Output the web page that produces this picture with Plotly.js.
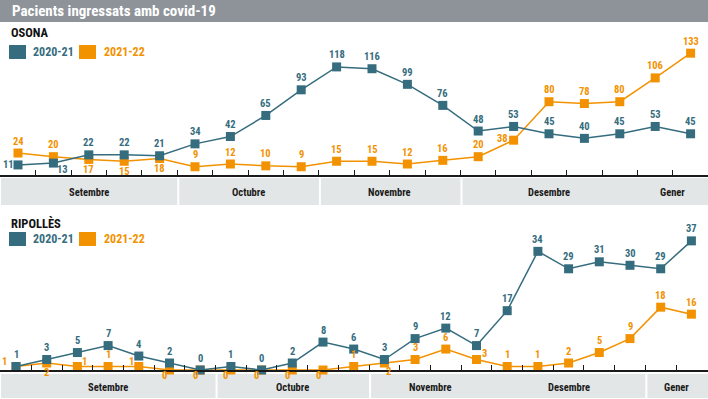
<!DOCTYPE html>
<html>
<head>
<meta charset="utf-8">
<script src="https://cdn.plot.ly/plotly-3.0.1.min.js"></script>
<style>
html,body{margin:0;padding:0;background:#fff;}
#chart{width:708px;height:399px;}
</style>
</head>
<body>
<div id="chart"></div>
<script>
// ---------- DATA ----------
const chartTitle = 'Pacients ingressats amb covid-19';
const seriesNames = ['2020-21', '2021-22'];
const monthNames = ['Setembre', 'Octubre', 'Novembre', 'Desembre', 'Gener'];

const osonaTitle = 'OSONA';
const osona2020 = [11, 13, 22, 22, 21, 34, 42, 65, 93, 118, 116, 99, 76, 48, 53, 45, 40, 45, 53, 45];
const osona2021 = [24, 20, 17, 15, 18, 9, 12, 10, 9, 15, 15, 12, 16, 20, 38, 80, 78, 80, 106, 133];
const osonaWeeksPerMonth = [5, 4, 4, 5, 2];

const ripTitle = 'RIPOLLÈS';
const rip2020 = [1, 3, 5, 7, 4, 2, 0, 1, 0, 2, 8, 6, 3, 9, 12, 7, 17, 34, 29, 31, 30, 29, 37];
const rip2021 = [1, 2, 1, 1, 1, 0, 0, 0, 0, 0, 0, 1, 2, 3, 6, 3, 1, 1, 2, 5, 9, 18, 16];
const ripWeeksPerMonth = [7, 5, 4, 5, 2];

// ---------- STYLE ----------
const W = 708, H = 399;
const X = p => p / W;
const Y = p => 1 - p / H;
const TEAL = '#356c7e';
const ORANGE = '#f39200';
const FONT = '"Roboto Condensed", "Liberation Sans Narrow", "DejaVu Sans Condensed", "Arial Narrow", Roboto, sans-serif';

// label offsets in pixels [dx, dy] (style only); default = above the marker
const ABOVE = [0, 12];
function off(special) { return i => special[i] || ABOVE; }
const osona2020Off = off({0: [-10, 0], 1: [9, -6]});
const osona2021Off = off({2: [0, -10], 3: [0, -10], 4: [0, -10], 14: [-11, 2]});
const rip2020Off = off({});
const rip2021Off = (i, v) => {
  const sp = {0: [-12, 5], 1: [0, -9], 2: [7, 5], 4: [-7, 5], 12: [4, -8], 15: [8, 6]};
  if (sp[i]) return sp[i];
  if (v === 0) return [-5, -5];
  return ABOVE;
};

function idx(arr) { return arr.map((_, i) => i); }

function mkTrace(vals, color, xa, ya) {
  return {
    x: idx(vals), y: vals, xaxis: xa, yaxis: ya,
    type: 'scatter', mode: 'lines+markers',
    line: {color: color, width: 1.5},
    marker: {symbol: 'square', size: 9, color: color},
    cliponaxis: false, hoverinfo: 'skip', showlegend: false
  };
}

const data = [
  mkTrace(osona2021, ORANGE, 'x', 'y'),
  mkTrace(osona2020, TEAL, 'x', 'y'),
  mkTrace(rip2021, ORANGE, 'x2', 'y2'),
  mkTrace(rip2020, TEAL, 'x2', 'y2')
];

const shapes = [];
const annotations = [];

function labels(vals, color, xa, ya, offFn) {
  vals.forEach((v, i) => {
    const o = offFn(i, v);
    annotations.push({xref: xa, yref: ya, x: i, y: v, xshift: o[0], yshift: o[1], showarrow: false,
      xanchor: 'center', yanchor: 'middle', text: '<b>' + v + '</b>',
      font: {family: FONT, size: 10.5, color: color}});
  });
}

// panel geometry (pixels)
const osona = {x0: 18, dx: 35.4, base: 175, top: 30, pxPerUnit: 0.916, bandTop: 178, bandBot: 205, dividers: [0, 1, 2], weeks: osonaWeeksPerMonth, n: osona2020.length};
const rip = {x0: 16, dx: 30.7, base: 370, top: 220, pxPerUnit: 3.49, bandTop: 374, bandBot: 398, dividers: [0, 1, 3], weeks: ripWeeksPerMonth, n: rip2020.length};

function xRange(g) { return [-g.x0 / g.dx, (W - g.x0) / g.dx]; }
function yRange(g) { return [0, (g.base - g.top) / g.pxPerUnit]; }
function midTicks(n) { const t = []; for (let i = 0; i < n - 1; i++) t.push(i + 0.5); return t; }

function xAxis(g, anchor) {
  return {
    domain: [0, 1], anchor: anchor, range: xRange(g), fixedrange: true,
    showgrid: false, zeroline: false, showline: true, linecolor: '#1a1a1a', linewidth: 1.5,
    ticks: 'inside', tickvals: midTicks(g.n), ticklen: 5, tickwidth: 1, tickcolor: '#1a1a1a',
    showticklabels: false
  };
}
function yAxis(g, anchor) {
  return {
    domain: [Y(g.base), Y(g.top)], anchor: anchor, range: yRange(g), fixedrange: true,
    showgrid: false, zeroline: false, showline: false, ticks: '', showticklabels: false
  };
}

// title bar
shapes.push({type: 'rect', xref: 'paper', yref: 'paper', x0: 0, x1: 1, y0: Y(22), y1: 1, fillcolor: '#8e939a', line: {width: 0}, layer: 'below'});
annotations.push({xref: 'paper', yref: 'paper', x: X(10), y: Y(11), xanchor: 'left', yanchor: 'middle', showarrow: false,
  text: '<b>' + chartTitle + '</b>', font: {family: FONT, size: 15, color: '#ffffff'}});

function panel(g, xa, title, titleY, legY) {
  annotations.push({xref: 'paper', yref: 'paper', x: X(9), y: Y(titleY), xanchor: 'left', yanchor: 'middle', showarrow: false,
    text: '<b>' + title + '</b>', font: {family: FONT, size: 12.5, color: '#111'}});
  const legs = [[9, TEAL, seriesNames[0], 31], [79, ORANGE, seriesNames[1], 102]];
  legs.forEach(l => {
    shapes.push({type: 'rect', xref: 'paper', yref: 'paper', x0: X(l[0]), x1: X(l[0] + 17), y0: Y(legY + 7), y1: Y(legY - 7), fillcolor: l[1], line: {width: 0}});
    annotations.push({xref: 'paper', yref: 'paper', x: X(l[3]), y: Y(legY), xanchor: 'left', yanchor: 'middle', showarrow: false,
      text: '<b>' + l[2] + '</b>', font: {family: FONT, size: 12, color: l[1]}});
  });
  shapes.push({type: 'rect', xref: 'paper', yref: 'paper', x0: X(1), x1: 1, y0: Y(g.bandBot), y1: Y(g.bandTop), fillcolor: '#e3e6e6', line: {width: 0}, layer: 'below'});
  let start = 0;
  g.weeks.forEach((w, m) => {
    const end = start + w - 1;
    annotations.push({xref: xa, yref: 'paper', x: (start + end) / 2, y: Y((g.bandTop + g.bandBot) / 2 + 1), xanchor: 'center', yanchor: 'middle', showarrow: false,
      text: '<b>' + monthNames[m] + '</b>', font: {family: FONT, size: 10.5, color: '#1a1a1a'}});
    if (g.dividers.indexOf(m) >= 0) {
      shapes.push({type: 'line', xref: xa, yref: 'paper', x0: end + 0.5 + 1 / g.dx, x1: end + 0.5 + 1 / g.dx, y0: Y(g.bandBot), y1: Y(g.bandTop), line: {color: '#ffffff', width: 2}});
    }
    start += w;
  });
}

panel(osona, 'x', osonaTitle, 33, 52);
panel(rip, 'x2', ripTitle, 223, 239);

labels(osona2020, TEAL, 'x', 'y', osona2020Off);
labels(osona2021, ORANGE, 'x', 'y', osona2021Off);
labels(rip2020, TEAL, 'x2', 'y2', rip2020Off);
labels(rip2021, ORANGE, 'x2', 'y2', rip2021Off);

const layout = {
  width: W, height: H, margin: {l: 0, r: 0, t: 0, b: 0, pad: 0},
  paper_bgcolor: '#ffffff', plot_bgcolor: 'rgba(0,0,0,0)',
  showlegend: false,
  xaxis: xAxis(osona, 'y'), yaxis: yAxis(osona, 'x'),
  xaxis2: xAxis(rip, 'y2'), yaxis2: yAxis(rip, 'x2'),
  shapes: shapes, annotations: annotations,
  font: {family: FONT}
};

Plotly.newPlot('chart', data, layout, {displayModeBar: false, staticPlot: true});
</script>
</body>
</html>
